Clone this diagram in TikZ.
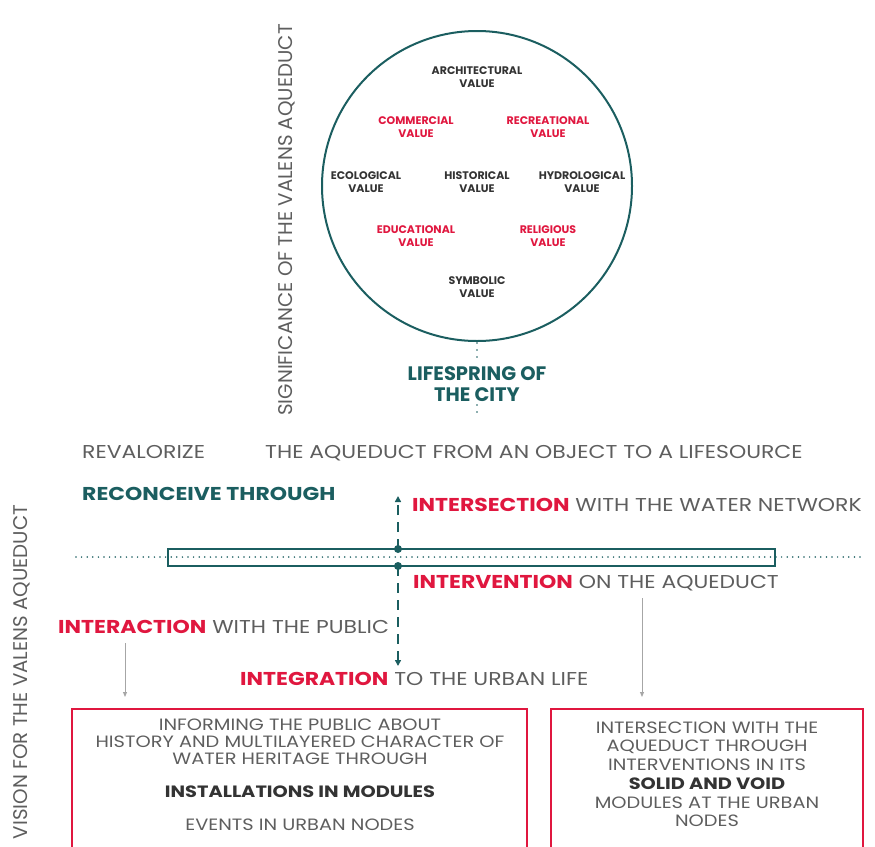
\documentclass[tikz,border=0pt]{standalone}
\usepackage{fontspec}
\setmainfont{Poppins}
\newfontfamily\pop{Poppins}
\newfontfamily\popw[FakeStretch=1.18]{Poppins}
\usetikzlibrary{arrows.meta}
\definecolor{teal1}{HTML}{1B5E60}
\definecolor{red1}{HTML}{E0173F}
\definecolor{txt}{HTML}{333333}
\definecolor{gtxt}{HTML}{5E5E5E}
\tikzset{
  val/.style={font=\pop\bfseries\fontsize{11}{12.5}\selectfont, align=center, text=txt, inner sep=0pt},
  valr/.style={val, text=red1},
  lab/.style={font=\popw\fontsize{18.6}{20}\selectfont, text=gtxt, inner sep=0pt, anchor=base west},
  side/.style={font=\pop\fontsize{19.8}{20}\selectfont, text=gtxt, inner sep=0pt, rotate=90},
  boxtxt/.style={font=\popw\fontsize{16.4}{17}\selectfont, text=gtxt, align=center, inner sep=0pt},
  dotline/.style={teal1, line width=1.7pt, line cap=round, dash pattern=on 0pt off 5.6pt},
  dashv/.style={teal1, line width=2.6pt, dash pattern=on 10pt off 7pt, -{Triangle[length=6pt,width=6pt]}},
  garrow/.style={gray!70, line width=0.9pt, -{Triangle[length=5pt,width=4pt]}},
  redbox/.style={draw=red1, line width=1.1pt}
}
\begin{document}
\begin{tikzpicture}[x=1pt,y=-1pt]
\useasboundingbox (0,0) rectangle (875,846);
% circle
\node[circle, draw=teal1, line width=2pt, minimum size=310pt, inner sep=0pt] (circ) at (477,186) {};
\node[val]  (arch) at (477,77)  {ARCHITECTURAL\\VALUE};
\node[valr] (comm) at (416,127) {COMMERCIAL\\VALUE};
\node[valr] (recr) at (548,127) {RECREATIONAL\\VALUE};
\node[val]  (eco)  at (366,182) {ECOLOGICAL\\VALUE};
\node[val]  (hist) at (477,182) {HISTORICAL\\VALUE};
\node[val]  (hydr) at (582,182) {HYDROLOGICAL\\VALUE};
\node[valr] (edu)  at (416,236) {EDUCATIONAL\\VALUE};
\node[valr] (rel)  at (548,236) {RELIGIOUS\\VALUE};
\node[val]  (sym)  at (477,287) {SYMBOLIC\\VALUE};
% lifespring
\node[font=\pop\bfseries\fontsize{19.5}{21}\selectfont, text=teal1, align=center, inner sep=0pt] (life) at (477,384) {LIFESPRING OF\\THE CITY};
\coordinate (d1) at (477,343);
\coordinate (d2) at (477,362);
\draw[dotline, dash pattern=on 0pt off 7pt] (d1) -- (d2);
\coordinate (d3) at (477,405);
\coordinate (d4) at (477,418);
\draw[dotline, dash pattern=on 0pt off 7pt] (d3) -- (d4);
% side labels
\node[side] (sig) at (287,220) {SIGNIFICANCE OF THE VALENS AQUEDUCT};
\node[side] (vis) at (22,672) {VISION FOR THE VALENS AQUEDUCT};
% revalorize line
\node[lab] (reval) at (82,458) {REVALORIZE};
\node[lab] (aqobj) at (265,458) {THE AQUEDUCT FROM AN OBJECT TO A LIFESOURCE};
\node[lab, font=\popw\bfseries\fontsize{18.6}{20}\selectfont, text=teal1] (recon) at (82,500) {RECONCEIVE THROUGH};
% bar
\coordinate (dl) at (76,557);
\coordinate (dr) at (860,557);
\draw[dotline] (dl) -- (dr);
\node[draw=teal1, line width=2.8pt, minimum width=607pt, minimum height=17pt, inner sep=0pt] (bar) at (471.5,557.5) {};
\fill[teal1] (398,549) circle (4pt) coordinate (ptop);
\fill[teal1] (398,566) circle (4pt) coordinate (pbot);
\coordinate (atop) at (398,496);
\coordinate (abot) at (398,666);
\draw[dashv] (ptop) -- (atop);
\draw[dashv] (pbot) -- (abot);
% labels
\node[lab] (inters) at (412,511) {\textcolor{red1}{\bfseries INTERSECTION} WITH THE WATER NETWORK};
\node[lab] (interv) at (413,588) {\textcolor{red1}{\bfseries INTERVENTION} ON THE AQUEDUCT};
\node[lab] (interac) at (58,633) {\textcolor{red1}{\bfseries INTERACTION} WITH THE PUBLIC};
\node[lab] (integ) at (240,685) {\textcolor{red1}{\bfseries INTEGRATION} TO THE URBAN LIFE};
% gray arrows
\coordinate (g1a) at (125,643);
\coordinate (g1b) at (125,697);
\coordinate (g2a) at (642,598);
\coordinate (g2b) at (642,697);
\draw[garrow] (g1a) -- (g1b);
\draw[garrow] (g2a) -- (g2b);
% boxes
\draw[redbox] (72,852) -- (72,709) -- (527,709) -- (527,852);
\draw[redbox] (551,852) -- (551,709) -- (863,709) -- (863,852);
\node[boxtxt] (l1) at (300,742) {INFORMING THE PUBLIC ABOUT\\HISTORY AND MULTILAYERED CHARACTER OF\\WATER HERITAGE THROUGH};
\node[boxtxt, font=\popw\bfseries\fontsize{16.4}{17}\selectfont, text=txt] (l2) at (300,792) {INSTALLATIONS IN MODULES};
\node[boxtxt] (l3) at (300,825) {EVENTS IN URBAN NODES};
\node[boxtxt, font=\popw\fontsize{16.4}{18.5}\selectfont] (r1) at (707,746) {INTERSECTION WITH THE\\AQUEDUCT THROUGH\\INTERVENTIONS IN ITS};
\node[boxtxt, font=\popw\bfseries\fontsize{16.4}{17}\selectfont, text=txt] (r2) at (707,784) {SOLID AND VOID};
\node[boxtxt, font=\popw\fontsize{16.4}{18.5}\selectfont] (r3) at (707,812) {MODULES AT THE URBAN\\NODES};
\end{tikzpicture}
\end{document}
